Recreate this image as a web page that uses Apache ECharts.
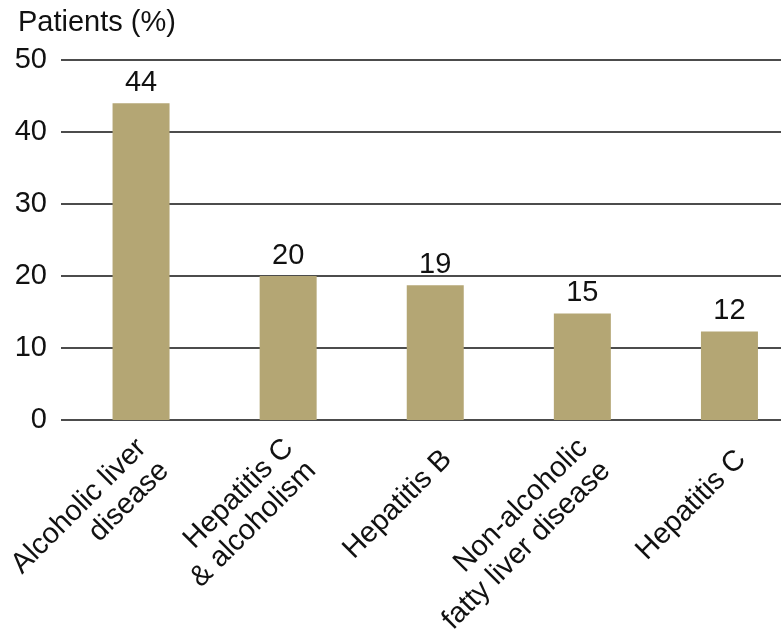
<!DOCTYPE html>
<html><head><meta charset="utf-8">
<script src="https://cdn.jsdelivr.net/npm/echarts@6/dist/echarts.min.js"></script>
<style>html,body{margin:0;padding:0;background:#fff}#c{width:781px;height:644px}</style>
</head><body><div id="c"></div>
<script>
const categories = ['Alcoholic liver\ndisease', 'Hepatitis C\n& alcoholism', 'Hepatitis B', 'Non-alcoholic\nfatty liver disease', 'Hepatitis C'];
const values = [44, 20, 18.7, 14.8, 12.3];
const yMin = 0, yMax = 50, yStep = 10;
const yTitle = 'Patients (%)';

const FONT = "'Liberation Sans', Arial, Helvetica, sans-serif";
const chart = echarts.init(document.getElementById('c'), null, {renderer: 'canvas'});
const gTop = 60, gBottom = 224;
const gridBase = {top: gTop, bottom: gBottom, containLabel: false, outerBoundsMode: 'none'};
chart.setOption({
  animation: false,
  title: {text: yTitle, left: 13, top: 3, textStyle: {fontFamily: FONT, fontSize: 29, fontWeight: 'normal', color: '#111'}},
  grid: [
    Object.assign({left: 61, right: 0}, gridBase),
    Object.assign({left: 67.5, width: 735.5}, gridBase),
    Object.assign({left: 79.5, width: 735.5}, gridBase)
  ],
  xAxis: [
    {gridIndex: 0, type: 'category', data: categories, show: false},
    {gridIndex: 1, type: 'category', data: categories, axisLine: {show: false}, axisTick: {show: false}, axisLabel: {show: false}},
    {gridIndex: 2, type: 'category', data: categories, axisLine: {show: false}, axisTick: {show: false},
      axisLabel: {interval: 0, rotate: 45, margin: 35, fontFamily: FONT, fontSize: 29, lineHeight: 32, color: '#111', align: 'right'}}
  ],
  yAxis: [
    {gridIndex: 0, type: 'value', min: yMin, max: yMax, interval: yStep,
      axisLine: {show: false}, axisTick: {show: false},
      axisLabel: {margin: 14, fontFamily: FONT, fontSize: 29, color: '#111'},
      splitLine: {show: true, lineStyle: {color: '#111', width: 1.6}}},
    {gridIndex: 1, type: 'value', min: yMin, max: yMax, interval: yStep, show: false, splitLine: {show: false}},
    {gridIndex: 2, type: 'value', min: yMin, max: yMax, interval: yStep, show: false, splitLine: {show: false}}
  ],
  series: [{
    type: 'bar', xAxisIndex: 1, yAxisIndex: 1, data: values, barWidth: 57,
    itemStyle: {color: '#b4a674'},
    label: {show: true, position: 'top', distance: 6, fontFamily: FONT, fontSize: 29, color: '#111',
      formatter: p => String(Math.round(p.value))}
  }]
});
</script></body></html>
